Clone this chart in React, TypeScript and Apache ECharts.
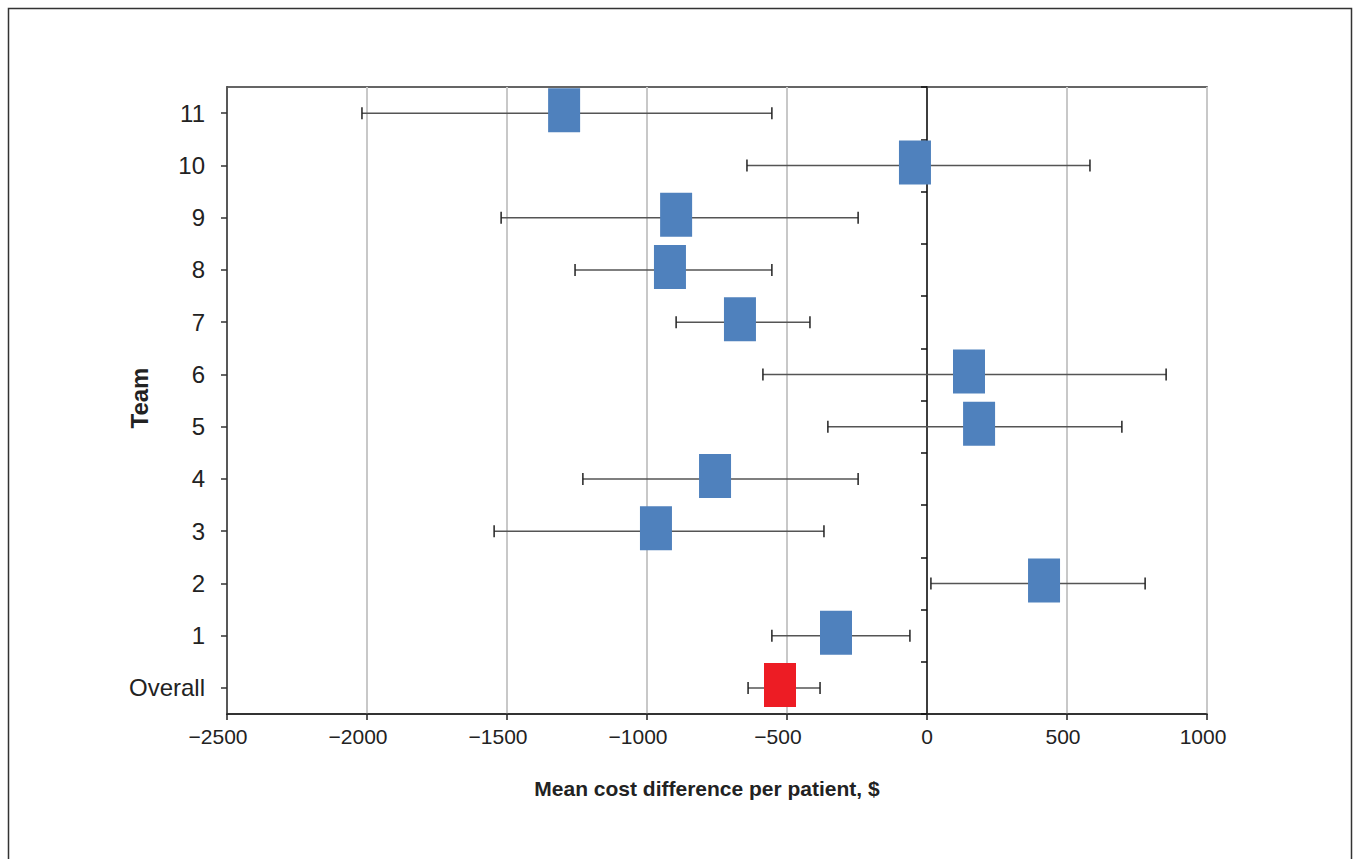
import React, { useEffect, useRef } from "react";
import * as echarts from "echarts";

const categories = ["Overall", "1", "2", "3", "4", "5", "6", "7", "8", "9", "10", "11"];
const meanDiff = [-525, -325, 418, -968, -757, 186, 150, -668, -918, -896, -43, -1296];
const lowerCI = [-639, -554, 14, -1546, -1229, -354, -586, -896, -1257, -1521, -643, -2018];
const upperCI = [-382, -61, 779, -368, -246, 696, 854, -418, -554, -246, 582, -554];
const xTicks = { min: -2500, max: 1000, interval: 500 };

const BLUE = "#4f81bd";
const RED = "#ed1c24";

export default function App() {
  const ref = useRef<HTMLDivElement>(null);
  useEffect(() => {
    if (!ref.current) return;
    const chart = echarts.init(ref.current, undefined, { renderer: "svg" });
    const font = "Liberation Sans, Arial, Helvetica, sans-serif";
    const option: any = {
      animation: false,
      backgroundColor: "#ffffff",
      grid: {
        left: 227,
        top: 87,
        width: 980,
        height: 627,
        show: true,
        borderColor: "#333333",
        borderWidth: 1.5,
        backgroundColor: "transparent",
      },
      xAxis: {
        type: "value",
        min: xTicks.min,
        max: xTicks.max,
        interval: xTicks.interval,
        axisLine: { show: true, onZero: false, lineStyle: { color: "#222222", width: 1.5 } },
        axisTick: { show: true, length: 6, lineStyle: { color: "#222222", width: 1.5 } },
        axisLabel: {
          margin: 12,
          fontSize: 21,
          color: "#222222",
          fontFamily: font,
          formatter: (v: number) => {
            if (v < 0) return `{n|${String(v).replace("-", "\u2212")}}`;
            if (v > 0) return `{p|${v}}`;
            return `{z|${v}}`;
          },
          rich: {
            n: { fontSize: 21, color: "#222222", fontFamily: font, padding: [0, 18, 0, 0] },
            p: { fontSize: 21, color: "#222222", fontFamily: font, padding: [0, 8, 0, 0] },
            z: { fontSize: 21, color: "#222222", fontFamily: font },
          },
        },
        splitLine: { show: true, lineStyle: { color: "#c8c8c8", width: 2 } },
      },
      yAxis: [
        {
          type: "category",
          data: categories,
          boundaryGap: true,
          position: "left",
          axisLine: { show: true, onZero: false, lineStyle: { color: "#333333", width: 1.5 } },
          axisTick: { show: true, alignWithLabel: true, length: 6, lineStyle: { color: "#333333", width: 1.5 } },
          axisLabel: { margin: 22, fontSize: 24, color: "#222222", fontFamily: font, padding: [0, 0, 5, 0] },
          splitLine: { show: false },
        },
        {
          type: "category",
          data: categories,
          boundaryGap: true,
          position: "left",
          offset: -700,
          axisLine: { show: true, onZero: false, lineStyle: { color: "#111111", width: 1.5 } },
          axisTick: { show: true, length: 6, lineStyle: { color: "#111111", width: 1.5 } },
          axisLabel: { show: false },
          splitLine: { show: false },
        },
      ],
      graphic: [
        {
          type: "rect",
          shape: { x: 8.5, y: 8.5, width: 1343, height: 900 },
          style: { fill: "none", stroke: "#333333", lineWidth: 1.5 },
          silent: true,
        },
        {
          type: "text",
          x: 707,
          y: 788,
          style: {
            text: "Mean cost difference per patient, $",
            font: `bold 21px ${font}`,
            fill: "#222222",
            textAlign: "center",
            textVerticalAlign: "middle",
          },
        },
        {
          type: "text",
          x: 139,
          y: 398,
          rotation: Math.PI / 2,
          style: {
            text: "Team",
            font: `bold 24px ${font}`,
            fill: "#222222",
            textAlign: "center",
            textVerticalAlign: "middle",
          },
        },
      ],
      series: [
        {
          type: "custom",
          xAxisIndex: 0,
          yAxisIndex: 0,
          z: 3,
          encode: { x: [0, 1], y: 2 },
          data: categories.map((_, i) => [lowerCI[i], upperCI[i], i]),
          renderItem: (params: any, api: any) => {
            const lo = api.coord([api.value(0), api.value(2)]);
            const hi = api.coord([api.value(1), api.value(2)]);
            const y = lo[1];
            const h = 6;
            return {
              type: "group",
              children: [
                {
                  type: "line",
                  shape: { x1: lo[0], y1: y, x2: hi[0], y2: y },
                  style: { stroke: "#555555", lineWidth: 1.5 },
                },
                {
                  type: "line",
                  shape: { x1: lo[0], y1: y - h, x2: lo[0], y2: y + h },
                  style: { stroke: "#222222", lineWidth: 1.5 },
                },
                {
                  type: "line",
                  shape: { x1: hi[0], y1: y - h, x2: hi[0], y2: y + h },
                  style: { stroke: "#222222", lineWidth: 1.5 },
                },
              ],
            };
          },
        },
        {
          type: "scatter",
          xAxisIndex: 0,
          yAxisIndex: 0,
          z: 4,
          symbol: "rect",
          symbolSize: [32, 44],
          symbolOffset: [0, -3],
          data: meanDiff.map((m, i) => ({
            value: [m, i],
            itemStyle: { color: i === 0 ? RED : BLUE, opacity: 1 },
          })),
        },
      ],
    };
    chart.setOption(option);
    return () => chart.dispose();
  }, []);
  return (
    <div
      ref={ref}
      style={{ position: "fixed", left: 0, top: 0, width: 1356, height: 859, background: "#fff" }}
    />
  );
}
